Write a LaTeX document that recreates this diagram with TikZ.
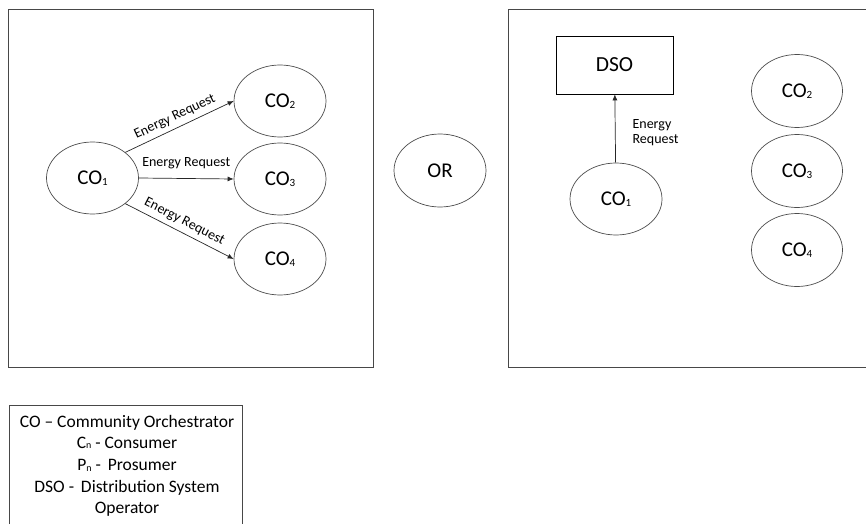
\documentclass[tikz,border=0pt]{standalone}
\usepackage{fontspec}
\setmainfont{Carlito}
\usetikzlibrary{shapes.geometric,arrows.meta}
% small index set on the baseline, as in CO1, Cn
\newcommand\lowidx[2][11]{\raisebox{-0.8pt}{\fontsize{#1}{#1}\selectfont #2}}

\begin{document}
\begin{tikzpicture}[x=1pt,y=-1pt,
  frame/.style={draw=black!72,line width=0.9pt},
  party/.style={ellipse,draw=black!70,line width=0.7pt,minimum width=92pt,
    minimum height=72pt,inner sep=0pt,font=\fontsize{21}{24}\selectfont},
  operator/.style={rectangle,draw=black,line width=0.7pt,minimum width=117pt,
    minimum height=58pt,inner sep=0pt,font=\fontsize{21.5}{24}\selectfont},
  request/.style={-{Latex[length=6pt,width=5pt]},draw=black!85,line width=0.7pt},
  reqlabel/.style={font=\fontsize{14}{15}\selectfont,inner sep=3pt},
  legendline/.style={font=\fontsize{17.5}{20}\selectfont,anchor=base,inner sep=0pt}
]
\useasboundingbox (0,0) rectangle (866,524);

% ---- option 1: peer-to-peer requests between orchestrators
\draw[frame] (8,9) rectangle (373,367);
\node[party] (co1) at (92.5,178) {CO\lowidx{1}};
\node[party] (co2) at (280,101) {CO\lowidx{2}};
\node[party] (co3) at (280,179) {CO\lowidx{3}};
\node[party] (co4) at (280,259) {CO\lowidx{4}};
\draw[request] (co1.38) -- (co2.west)
  node[midway,sloped,above=1.5pt,reqlabel] {Energy Request};
\draw[request] (co1.east) -- (co3.west)
  node[midway,above=6pt,reqlabel] {Energy Request};
\draw[request] (co1.-38) -- (co4.west)
  node[midway,sloped,above=1.5pt,reqlabel] {Energy Request};

% ---- alternative
\node[party,minimum width=92pt,minimum height=73pt] (or) at (440,170.5) {OR};

% ---- option 2: request sent to the distribution system operator
\draw[frame] (866,9) -- (508,9) -- (508,367) -- (866,367);
\node[operator] (dso) at (614.5,65) {DSO};
\node[party] (rco1) at (616,199) {CO\lowidx{1}};
\node[party,minimum width=91pt,minimum height=73pt] (rco2) at (797,91) {CO\lowidx{2}};
\node[party,minimum width=91pt,minimum height=73pt] (rco3) at (797,171) {CO\lowidx{3}};
\node[party,minimum width=91pt,minimum height=73pt] (rco4) at (797,250) {CO\lowidx{4}};
\draw[request] (rco1) -- (dso)
  node[midway,right=14pt,yshift=-4pt,align=left,reqlabel] {Energy\\Request};

% ---- legend
\draw[frame] (9,524) -- (9,405) -- (242,405) -- (242,524);
\node[legendline] (leg1) at (127,427) {CO – Community Orchestrator};
\node[legendline] (leg2) at (127,448) {C\lowidx[10]{n} - Consumer};
\node[legendline] (leg3) at (127,470.5) {P\lowidx[10]{n} - \,Prosumer};
\node[legendline] (leg4) at (127,492) {DSO - \,Distribution System};
\node[legendline] (leg5) at (127,513) {Operator};
\end{tikzpicture}
\end{document}
